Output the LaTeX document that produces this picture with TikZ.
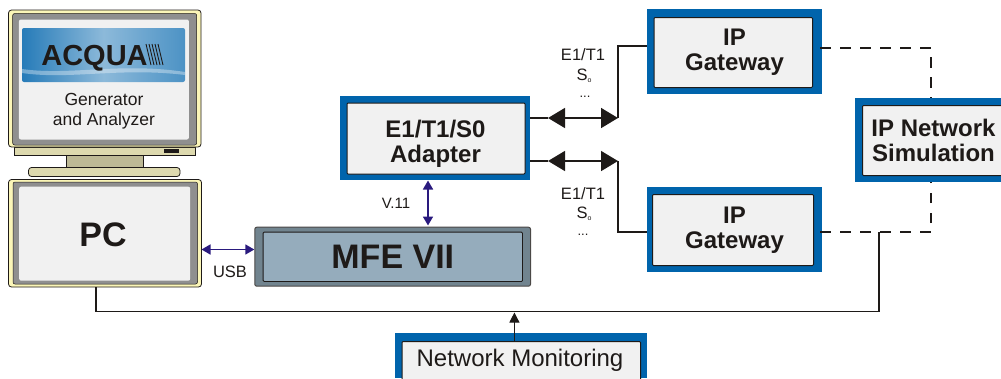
\documentclass[tikz,border=0pt]{standalone}
\usepackage{fontspec}
\setmainfont{Liberation Sans}
\usetikzlibrary{arrows.meta}
\definecolor{ink}{HTML}{1E1A18}
\definecolor{bluef}{HTML}{0064AC}
\definecolor{panel}{HTML}{F1F1F1}
\definecolor{cream}{HTML}{FBF6B8}
\definecolor{bezel}{HTML}{8F8F8F}
\definecolor{khaki}{HTML}{DDD9AE}
\definecolor{neck}{HTML}{BDB995}
\definecolor{navy}{HTML}{2A1A7E}
\definecolor{mfeo}{HTML}{71848F}
\definecolor{mfei}{HTML}{95ACBC}
\tikzset{
 x=1pt,y=-1pt,
 panelbox/.style={draw=ink,line width=1pt,fill=panel,rounded corners=1pt,anchor=north west,inner sep=0pt},
 bluebox/.style={fill=bluef,draw=none,anchor=north west,inner sep=0pt},
 wire/.style={draw=ink,line width=1.6pt},
 dashwire/.style={draw=ink,line width=1.7pt,dash pattern=on 10.5pt off 9.5pt},
 thickarrows/.style={{Triangle[length=17pt,width=20pt]}-{Triangle[length=17pt,width=20pt]},draw=ink,line width=1.6pt},
 navyarrow/.style={{Triangle[length=9pt,width=10pt]}-{Triangle[length=9pt,width=10pt]},draw=navy,line width=1.7pt},
 lbl/.style={font=\fontsize{16.5}{19}\selectfont,text=ink,align=center,inner sep=0pt},
 big/.style={font=\fontsize{24}{25}\selectfont\bfseries,text=ink,align=center,inner sep=0pt},
 huge/.style={font=\fontsize{34}{34}\selectfont\bfseries,text=ink,align=center,inner sep=0pt},
}
\begin{document}
\begin{tikzpicture}
\useasboundingbox (0,0) rectangle (1001,378);
% monitor
\fill[khaki,draw=ink,line width=0.8pt] (14.5,147) rectangle (195,155);
\fill[neck,draw=ink,line width=0.6pt] (66,155) rectangle (143,168);
\fill[khaki,draw=ink,line width=0.8pt,rounded corners=3pt] (28.5,167.5) rectangle (180,176.5);
\fill[ink] (164,149) rectangle (178.5,153);
\path[fill=cream,draw=ink,line width=0.8pt,rounded corners=3pt] (8.5,10) rectangle (201,147);
\path[fill=bezel,draw=ink,line width=0.5pt,rounded corners=2pt] (12.7,13.5) rectangle (196.7,145);
\node[fill=panel,rounded corners=2pt,minimum width=170pt,minimum height=120pt,anchor=north west,inner sep=0pt] (screen) at (18.7,19.3) {};
\node[lbl,font=\fontsize{17.5}{20}\selectfont] (gen) at (104,111) {Generator\\and Analyzer};
% logo
\shade[left color=bluef!85,right color=bluef!70,middle color=bluef!45,rounded corners=2pt] (22,28) rectangle (185,82);
\fill[white,opacity=.35] (22,69) .. controls (70,76) and (120,62) .. (185,72) -- (185,75) .. controls (120,67) and (70,80) .. (22,73) -- cycle;
\foreach \hx in {146,149,152,155,158}
  \draw[ink,line width=0.9pt] (\hx,44) -- (\hx+5,65);
\node[font=\fontsize{29}{29}\selectfont\bfseries,text=ink,anchor=base,inner sep=0pt] (logo) at (94.5,65) {ACQUA};
% PC
\path[fill=cream,draw=ink,line width=0.8pt,rounded corners=3pt] (8.5,179.5) rectangle (201.5,287);
\path[fill=bezel,draw=ink,line width=0.5pt,rounded corners=2pt] (13,182) rectangle (197.5,284);
\node[fill=panel,rounded corners=2pt,minimum width=171pt,minimum height=94pt,anchor=north west,inner sep=0pt] (pcscreen) at (19,186.5) {};
\node[huge] (pc) at (103,235) {PC};
\coordinate (pcbox) at (201.5,249.5);
% MFE
\node[fill=mfeo,draw=ink!80,line width=1pt,rounded corners=2pt,minimum width=275.7pt,minimum height=59pt,anchor=north west,inner sep=0pt] (mfeouter) at (254.3,226.7) {};
\node[fill=mfei,draw=ink,line width=0.9pt,rounded corners=1pt,minimum width=259.3pt,minimum height=49.3pt,anchor=north west,inner sep=0pt,huge] (mfe) at (262.7,231.7) {MFE VII};
% adapter
\node[bluebox,minimum width=190pt,minimum height=84pt] (adapterO) at (340,96) {};
\node[panelbox,minimum width=178pt,minimum height=71pt] (adapterI) at (346.5,102.5) {};
\node[big] (adapter) at (435.5,144) {E1/T1/S0\\Adapter};
% gateway 1
\node[bluebox,minimum width=175pt,minimum height=85pt] (gw1O) at (647,9) {};
\node[panelbox,minimum width=158.5pt,minimum height=70pt] (gw1I) at (653.5,17) {};
\node[big] (gw1) at (734.5,52.5) {IP\\Gateway};
% gateway 2
\node[bluebox,minimum width=175pt,minimum height=85pt] (gw2O) at (647,187) {};
\node[panelbox,minimum width=161pt,minimum height=71pt] (gw2I) at (652,194) {};
\node[big] (gw2) at (734.5,230.5) {IP\\Gateway};
% IP net
\node[bluebox,minimum width=146pt,minimum height=84pt] (netO) at (855,98) {};
\node[panelbox,minimum width=145pt,minimum height=70pt] (netI) at (862,105) {};
\node[big] (net) at (933.5,140.5) {IP Network\\Simulation};
% monitoring
\node[bluebox,minimum width=252pt,minimum height=45pt] (monO) at (395,333) {};
\node[panelbox,minimum width=238.5pt,minimum height=40pt] (monI) at (401.5,341) {};
\node[font=\fontsize{24}{24}\selectfont,text=ink,inner sep=0pt] (mon) at (520,360) {Network Monitoring};
% coordinates
\coordinate (j1) at (618,118);
\coordinate (k1) at (618,46);
\coordinate (j2) at (618,161);
\coordinate (k2) at (618,231.7);
\coordinate (d1) at (931,48);
\coordinate (d2) at (931,232);
\coordinate (s1) at (820,48);
\coordinate (s2) at (820,232);
\coordinate (pcb) at (96,287);
\coordinate (bus) at (96,311.5);
\coordinate (busr) at (879,311.5);
\coordinate (d3) at (879,232);
\coordinate (mt) at (514.4,312.5);
\coordinate (t1) at (548,118);
\coordinate (t2) at (548,161);
% connectors
\draw[wire] (j1) -- (k1) -- (k1 -| gw1O.west);
\draw[wire] (j2) -- (k2) -- (k2 -| gw2O.west);
\draw[wire] (j1 -| adapterO.east) -- (t1);
\draw[wire] (j2 -| adapterO.east) -- (t2);
\draw[thickarrows] (t1) -- (j1);
\draw[thickarrows] (t2) -- (j2);
\draw[navyarrow] (pcbox) -- (pcbox -| mfeouter.west);
\draw[navyarrow] (428,180.5) -- (428,225.5);
\draw[dashwire] (s1) -- (d1) -- (d1 |- netO.north);
\draw[dashwire] (s2) -- (d2) -- (d2 |- netO.south);
\draw[wire] (pcb) -- (bus) -- (busr) -- (d3);
\draw[draw=ink,line width=1pt,-{Triangle[length=10pt,width=10pt]}] (monI.north -| mt) -- (mt);
% labels
\newcommand{\smallo}{\raisebox{-2.5pt}{\fontsize{7}{7}\selectfont o}}
\node[lbl] (e1) at (583,55) {E1/T1};
\node[lbl] (s1t) at (584,76) {S\smallo};
\node[lbl,font=\fontsize{13}{13}\selectfont] (dot1) at (585,97) {...};
\node[lbl] (e2) at (583,194) {E1/T1};
\node[lbl] (s2t) at (584,214) {S\smallo};
\node[lbl,font=\fontsize{13}{13}\selectfont] (dot2) at (583,235) {...};
\node[lbl,font=\fontsize{15}{16}\selectfont] (v11) at (396,203) {V.11};
\node[lbl] (usb) at (230,272) {USB};
\end{tikzpicture}
\end{document}
